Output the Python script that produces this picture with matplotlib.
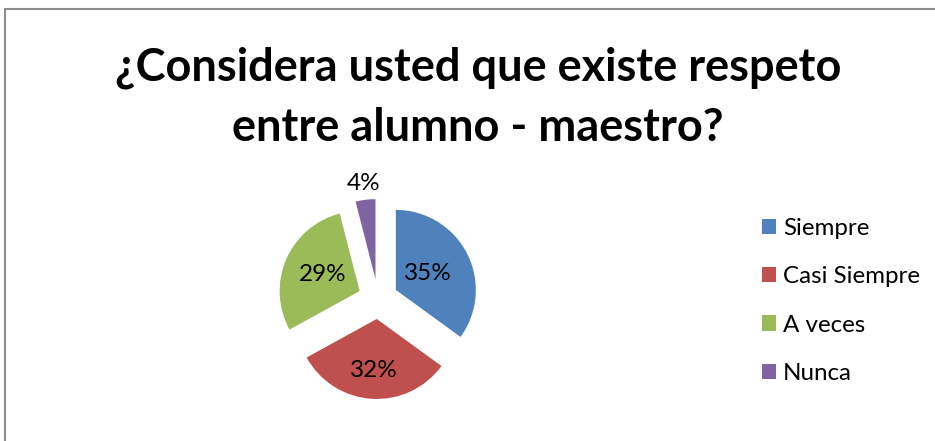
import matplotlib
matplotlib.use("Agg")
import numpy as np
import matplotlib.pyplot as plt
from matplotlib.patches import Rectangle

W, H = 935, 441

categories = ["Siempre", "Casi Siempre", "A veces", "Nunca"]
values = [35, 32, 29, 4]
pct_labels = ["35%", "32%", "29%", "4%"]
colors = ["#4F81BD", "#C0504D", "#9BBB59", "#8064A2"]
title_lines = ["¿Considera usted que existe respeto", "entre alumno - maestro?"]

plt.rcParams["font.family"] = ["Lato", "DejaVu Sans"]

fig = plt.figure(figsize=(W / 100, H / 100), dpi=100)
ax = fig.add_axes([0, 0, 1, 1])

# pie in pixel units (y measured from bottom)
radius = 80
cx, cy = 378, H - 299
wedges, _ = ax.pie(
    values, colors=colors, startangle=90, counterclock=False,
    radius=radius, center=(cx, cy), explode=[20] * 4, frame=True,
    wedgeprops=dict(linewidth=0),
)

ax.set_xlim(0, W)
ax.set_ylim(0, H)
ax.set_aspect("equal")
ax.axis("off")

# percentage labels, distance as fraction of radius
label_dist = [0.45, 0.64, 0.51, 1.21]
for w, lab, d in zip(wedges, pct_labels, label_dist):
    ang = np.deg2rad((w.theta1 + w.theta2) / 2)
    x0, y0 = w.center
    ax.text(x0 + d * w.r * np.cos(ang), y0 + d * w.r * np.sin(ang), lab,
            ha="center", va="center", fontsize=17.5, color="black")

# title
ax.text(478, H - 68, title_lines[0], ha="center", va="center",
        fontsize=32.5, fontweight="bold")
ax.text(478, H - 128, title_lines[1], ha="center", va="center",
        fontsize=32.5, fontweight="bold")

# chart border
ax.add_patch(Rectangle((5, -5), W + 10, H - 9 + 5, fill=False,
                       edgecolor="#8c8c8c", linewidth=1.5, clip_on=False))

leg = ax.legend(wedges, categories, loc="center left",
                bbox_to_anchor=(752 / W, 1 - 301 / H), frameon=False,
                fontsize=17.4, handlelength=0.58, handleheight=0.58,
                handletextpad=0.3, labelspacing=1.12, borderaxespad=0)

fig.savefig("out.png", dpi=100)
